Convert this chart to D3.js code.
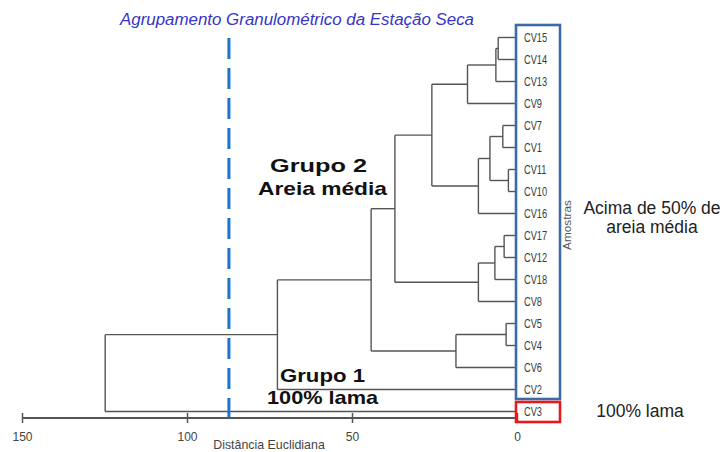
<!DOCTYPE html>
<html>
<head>
<meta charset="utf-8">
<script src="https://cdn.jsdelivr.net/npm/d3@7"></script>
<style>
  html, body { margin: 0; padding: 0; background: #fff; }
  svg { display: block; font-family: "Liberation Sans", Arial, sans-serif; }
</style>
</head>
<body>
<svg id="chart" width="724" height="452"></svg>
<script>
// Leaf order (top to bottom) of the dendrogram
const leaves = ["CV15","CV14","CV13","CV9","CV7","CV1","CV11","CV10","CV16",
                "CV17","CV12","CV18","CV8","CV5","CV4","CV6","CV2","CV3"];

// Linkage steps: [left, right, Euclidean distance]; "#n" refers to step n
const merges = [
  ["CV15", "CV14", 5.7],
  ["#0",   "CV13", 6.4],
  ["#1",   "CV9",  15.0],
  ["CV7",  "CV1",  4.3],
  ["CV11", "CV10", 2.6],
  ["#3",   "#4",   8.2],
  ["#5",   "CV16", 11.7],
  ["#2",   "#6",   25.8],
  ["CV17", "CV12", 3.9],
  ["#8",   "CV18", 6.7],
  ["#9",   "CV8",  11.7],
  ["#7",   "#10",  37.0],
  ["CV5",  "CV4",  3.3],
  ["#12",  "CV6",  18.5],
  ["#11",  "#13",  44.2],
  ["#14",  "CV2",  72.6],
  ["#15",  "CV3",  124.8]
];

// Axis ticks
const tickValues = [150, 100, 50, 0];

const svg = d3.select("#chart");

const x = d3.scaleLinear().domain([150, 0]).range([22, 517]);
const y = d3.scalePoint().domain(leaves).range([37.5, 411.5]);

// Build the tree from the linkage steps
const nodes = merges.map(() => null);
function resolve(ref) {
  if (ref.startsWith("#")) return nodes[+ref.slice(1)];
  return { name: ref, height: 0, children: null };
}
merges.forEach((m, i) => {
  nodes[i] = { name: "#" + i, height: m[2], children: [resolve(m[0]), resolve(m[1])] };
});
const root = d3.hierarchy(nodes[nodes.length - 1]);
root.eachAfter(n => {
  n.py = n.children ? d3.mean(n.children, c => c.py) : y(n.data.name);
  n.px = x(n.data.height);
});

const lineColor = "#555";
const g = svg.append("g").attr("fill", "none").attr("stroke", lineColor).attr("stroke-width", 1.4);

// Elbow links
root.descendants().filter(n => n.children).forEach(n => {
  g.append("line")
    .attr("x1", n.px).attr("x2", n.px)
    .attr("y1", d3.min(n.children, c => c.py)).attr("y2", d3.max(n.children, c => c.py));
  n.children.forEach(c => {
    g.append("line")
      .attr("x1", n.px).attr("x2", c.px)
      .attr("y1", c.py).attr("y2", c.py);
  });
});

// Cut line
svg.append("line")
  .attr("x1", x(87.3)).attr("x2", x(87.3))
  .attr("y1", 38).attr("y2", 418)
  .attr("stroke", "#1a74d0").attr("stroke-width", 3)
  .attr("stroke-dasharray", "21,9");

// Distance axis
const axis = svg.append("g")
  .attr("transform", "translate(0,418)")
  .call(d3.axisBottom(x).tickValues(tickValues).tickSize(5).tickPadding(9).tickFormat(d3.format("d")));
axis.select(".domain").attr("stroke", "#555").attr("stroke-width", 2).attr("d", `M${x(150)},0H${x(0)}`);
axis.selectAll(".tick line").attr("stroke", "#555").attr("stroke-width", 1.5).attr("y1", -5).attr("y2", 5);
axis.selectAll(".tick text").attr("fill", "#444").attr("font-size", 12)
  .attr("font-family", "Liberation Sans, Arial, sans-serif");

svg.append("text")
  .attr("x", 269).attr("y", 449)
  .attr("text-anchor", "middle")
  .attr("font-size", 12.4).attr("fill", "#444")
  .text("Distância Euclidiana");

// Leaf labels
leaves.forEach(name => {
  svg.append("text")
    .attr("transform", `translate(524,${y(name)}) scale(0.76,1)`)
    .attr("dy", "0.36em")
    .attr("font-size", 12.2).attr("fill", "#3a3a3a")
    .text(name);
});

svg.append("text")
  .attr("transform", "translate(571,225) rotate(-90)")
  .attr("text-anchor", "middle")
  .attr("font-size", 11.8).attr("fill", "#555")
  .text("Amostras");

// Group frames
svg.append("rect")
  .attr("x", 516).attr("y", 25).attr("width", 44).attr("height", 374)
  .attr("fill", "none").attr("stroke", "#3c6ca8").attr("stroke-width", 2.6);
svg.append("rect")
  .attr("x", 516).attr("y", 402).attr("width", 44).attr("height", 20)
  .attr("fill", "none").attr("stroke", "#e8181b").attr("stroke-width", 2.6);

// Title
svg.append("text")
  .attr("x", 297).attr("y", 25)
  .attr("text-anchor", "middle")
  .attr("font-size", 16.9).attr("font-style", "italic").attr("fill", "#3535c8")
  .text("Agrupamento Granulométrico da Estação Seca");

// Group annotations
const bold = [
  { t: "Grupo 2",     x: 270, y: 171.5, w: 97 },
  { t: "Areia média", x: 258, y: 195,   w: 129 },
  { t: "Grupo 1",     x: 280, y: 381.5, w: 85 },
  { t: "100% lama",   x: 267, y: 403.5, w: 111 }
];
bold.forEach(b => {
  svg.append("text")
    .attr("x", b.x).attr("y", b.y)
    .attr("font-size", 19).attr("font-weight", "bold").attr("fill", "#111")
    .attr("textLength", b.w).attr("lengthAdjust", "spacingAndGlyphs")
    .text(b.t);
});

const side = [
  { t: "Acima de 50% de", y: 214 },
  { t: "areia média",     y: 233 },
  { t: "100% lama",       y: 417 }
];
side.forEach((s, i) => {
  svg.append("text")
    .attr("x", i < 2 ? 652 : 640).attr("y", s.y)
    .attr("text-anchor", "middle")
    .attr("font-size", 17.5).attr("fill", "#222")
    .text(s.t);
});
</script>
</body>
</html>
